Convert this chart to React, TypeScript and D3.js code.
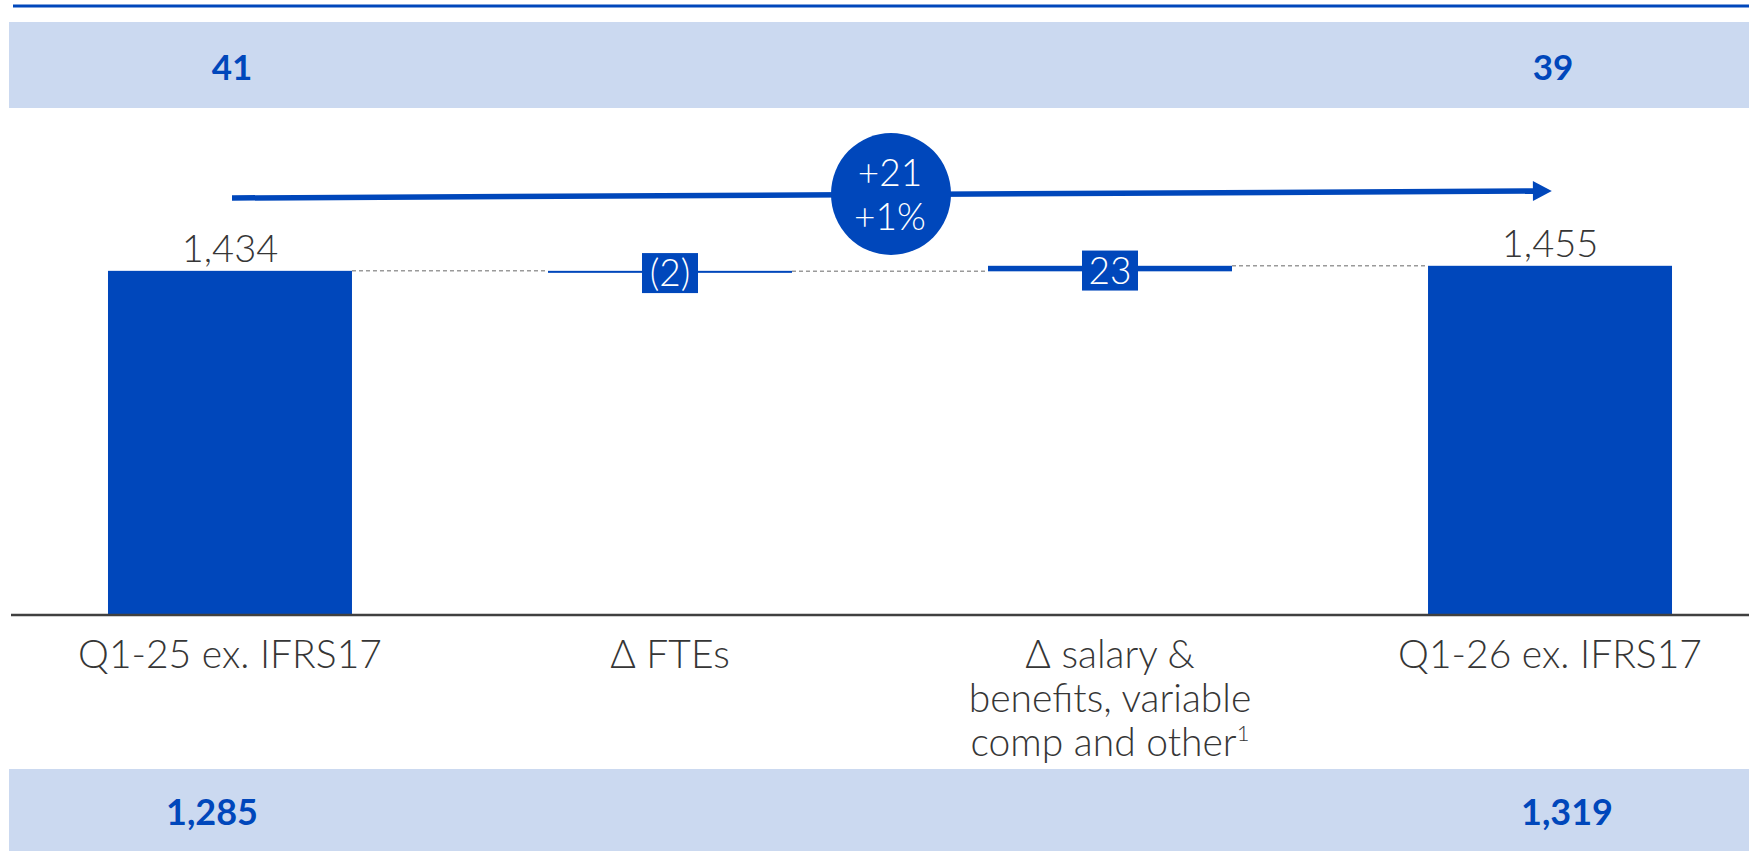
import React from "react";
import * as d3 from "d3";

// waterfall data
const categories = ["Q1-25 ex. IFRS17", "Δ FTEs", "Δ salary & benefits, variable comp and other", "Q1-26 ex. IFRS17"];
const labelLines = [["Q1-25 ex. IFRS17"], ["Δ FTEs"], ["Δ salary &", "benefits, variable", "comp and other"], ["Q1-26 ex. IFRS17"]];
const footnoteMarks = ["", "", "1", ""];
const values = [1434, -2, 23, 1455];
const isTotal = [true, false, false, true];
const valueLabels = ["1,434", "(2)", "23", "1,455"];
const topRow = ["41", "", "", "39"];
const bottomRow = ["1,285", "", "", "1,319"];
const changeLabels = ["+21", "+1%"];

const BLUE = "#0047BB";
const BAND = "#CBD9F0";
const GRAY = "#363636";
const FONT = "Lato, 'Open Sans', sans-serif";

const App = () => {
  const width = 1749;
  const height = 851;
  const baseY = 615;

  const x = d3
    .scaleBand()
    .domain(categories)
    .range([10, 1770])
    .paddingInner(0.4455)
    .paddingOuter(0.2227);
  const y = d3.scaleLinear().domain([0, 1500]).range([baseY, 255]);
  const bw = x.bandwidth();
  const cx = (c) => x(c) + bw / 2;

  // running totals
  let running = 0;
  const steps = categories.map((c, i) => {
    let start, end;
    if (isTotal[i]) {
      start = 0;
      end = values[i];
    } else {
      start = running;
      end = running + values[i];
    }
    running = end;
    return { c, i, start, end };
  });

  const arrowStart = [cx(categories[0]) + 2, 198];
  const arrowEnd = [cx(categories[3]) - 16, 191];
  const midX = (cx(categories[0]) + cx(categories[3])) / 2;

  return (
    <svg
      width={width}
      height={height}
      style={{ position: "absolute", left: 0, top: 0, background: "#fff" }}
      fontFamily={FONT}
    >
      <defs>
        <marker
          id="head"
          markerUnits="userSpaceOnUse"
          markerWidth="20"
          markerHeight="20"
          viewBox="0 0 17 18"
          refX="1"
          refY="9"
          orient="auto"
        >
          <path d="M0,0 L17,9 L0,18 Z" fill={BLUE} />
        </marker>
      </defs>

      {/* top rule */}
      <line x1={13} x2={width} y1={6} y2={6} stroke={BLUE} strokeWidth={3} />

      {/* top & bottom bands */}
      <rect x={9} y={22} width={width - 9} height={86} fill={BAND} />
      <rect x={9} y={769} width={width - 9} height={82} fill={BAND} />
      {topRow.map((t, i) =>
        t ? (
          <text key={"t" + i} x={cx(categories[i]) + (i === 0 ? 2 : 3)} y={80} textAnchor="middle" fontSize={35} fontWeight={700} fill={BLUE}>
            {t}
          </text>
        ) : null
      )}
      {bottomRow.map((t, i) =>
        t ? (
          <text key={"b" + i} x={cx(categories[i]) + (i === 0 ? -18 : 17)} y={825} textAnchor="middle" fontSize={36} fontWeight={700} fill={BLUE}>
            {t}
          </text>
        ) : null
      )}

      {/* connectors */}
      {steps.slice(0, -1).map((s, i) => (
        <line
          key={"c" + i}
          x1={x(s.c) + bw}
          x2={x(categories[i + 1])}
          y1={y(s.end)}
          y2={y(s.end)}
          stroke="#9a9a9a"
          strokeWidth={1.5}
          strokeDasharray="4 3"
        />
      ))}

      {/* bars */}
      {steps.map((s) => {
        const top = y(Math.max(s.start, s.end));
        const h = Math.max(2, Math.abs(y(s.start) - y(s.end)));
        return <rect key={"r" + s.i} x={x(s.c)} y={top} width={bw} height={h} fill={BLUE} />;
      })}

      {/* value labels */}
      {steps.map((s) => {
        if (isTotal[s.i]) {
          return (
            <text key={"v" + s.i} x={cx(s.c)} y={y(s.end) - 9} textAnchor="middle" fontSize={38} fontWeight={300} fill={GRAY}>
              {valueLabels[s.i]}
            </text>
          );
        }
        const my = (y(s.start) + y(s.end)) / 2 + 2;
        return (
          <g key={"v" + s.i}>
            <rect x={cx(s.c) - 28} y={my - 20} width={56} height={40} fill={BLUE} />
            <text x={cx(s.c)} y={my + 13} textAnchor="middle" fontSize={37} fontWeight={300} fill="#fff">
              {valueLabels[s.i]}
            </text>
          </g>
        );
      })}

      {/* axis */}
      <line x1={11} x2={width} y1={baseY} y2={baseY} stroke="#404040" strokeWidth={2.5} />
      {labelLines.map((lines, i) => (
        <text key={"l" + i} x={cx(categories[i])} y={668} textAnchor="middle" fontSize={39} fontWeight={300} fill={GRAY}>
          {lines.map((ln, j) => (
            <tspan key={j} x={cx(categories[i])} dy={j === 0 ? 0 : 44}>
              {ln}
              {j === lines.length - 1 && footnoteMarks[i] ? (
                <tspan fontSize={22} dy={-15}>
                  {footnoteMarks[i]}
                </tspan>
              ) : null}
            </tspan>
          ))}
        </text>
      ))}

      {/* total change arrow */}
      <line
        x1={arrowStart[0]}
        y1={arrowStart[1]}
        x2={arrowEnd[0]}
        y2={arrowEnd[1]}
        stroke={BLUE}
        strokeWidth={5.5}
        markerEnd="url(#head)"
      />
      <ellipse cx={midX + 1} cy={194} rx={60} ry={61} fill={BLUE} />
      <text x={midX} y={186} textAnchor="middle" fontSize={37} fontWeight={300} fill="#fff">
        {changeLabels[0]}
      </text>
      <text x={midX} y={230} textAnchor="middle" fontSize={37} fontWeight={300} fill="#fff">
        {changeLabels[1]}
      </text>
    </svg>
  );
};

export default App;
